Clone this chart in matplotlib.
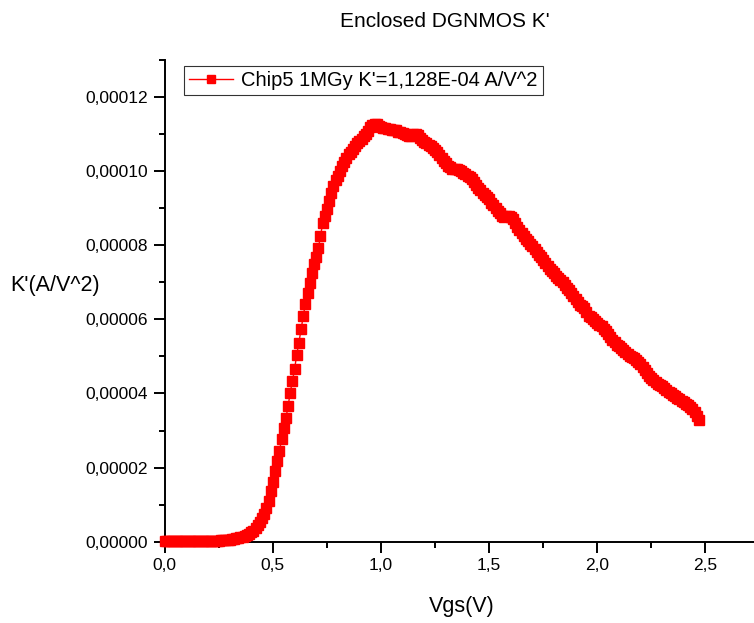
import numpy as np
import matplotlib
matplotlib.use('Agg')
import matplotlib.pyplot as plt
from matplotlib.ticker import MultipleLocator, FuncFormatter

plt.rcParams['font.family'] = ['Liberation Sans', 'DejaVu Sans']

# sweep: Vgs from 0 V in 0.01 V steps
vgs_start = 0.0
vgs_step = 0.01

# K', in units of 1e-5 A/V^2, one value per sweep step
k_e5 = [
    0.02, 0.02, 0.02, 0.02, 0.02, 0.02, 0.02, 0.02, 0.02, 0.02,
    0.02, 0.02, 0.02, 0.02, 0.02, 0.02, 0.02, 0.02, 0.02, 0.02,
    0.02, 0.02, 0.02, 0.03, 0.03, 0.03, 0.04, 0.04, 0.04, 0.05,
    0.05, 0.06, 0.08, 0.09, 0.11, 0.12, 0.14, 0.16, 0.19, 0.22,
    0.25, 0.30, 0.36, 0.44, 0.53, 0.63, 0.76, 0.90, 1.10, 1.36,
    1.62, 1.91, 2.19, 2.45, 2.76, 3.06, 3.33, 3.66, 4.02, 4.33,
    4.65, 5.05, 5.37, 5.73, 6.08, 6.42, 6.72, 6.99, 7.25, 7.50,
    7.68, 7.92, 8.24, 8.60, 8.80, 8.97, 9.20, 9.41, 9.60, 9.76,
    9.86, 10.00, 10.14, 10.26, 10.36, 10.45, 10.53, 10.61, 10.69, 10.76,
    10.82, 10.88, 10.94, 11.00, 11.08, 11.20, 11.24, 11.27, 11.28, 11.22,
    11.18, 11.16, 11.17, 11.14, 11.13, 11.12, 11.10, 11.10, 11.07, 11.06,
    11.03, 11.00, 10.97, 10.95, 10.96, 11.00, 11.01, 10.97, 10.90, 10.84,
    10.80, 10.75, 10.71, 10.67, 10.63, 10.58, 10.52, 10.43, 10.35, 10.27,
    10.22, 10.15, 10.10, 10.07, 10.06, 10.05, 10.03, 10.00, 9.95, 9.91,
    9.88, 9.85, 9.78, 9.70, 9.62, 9.55, 9.48, 9.42, 9.35, 9.30,
    9.24, 9.15, 9.08, 9.00, 8.92, 8.86, 8.80, 8.76, 8.78, 8.80,
    8.76, 8.70, 8.60, 8.50, 8.42, 8.33, 8.25, 8.18, 8.11, 8.04,
    7.98, 7.90, 7.82, 7.75, 7.67, 7.60, 7.53, 7.45, 7.37, 7.30,
    7.24, 7.18, 7.12, 7.06, 7.00, 6.93, 6.86, 6.79, 6.71, 6.64,
    6.56, 6.46, 6.40, 6.36, 6.31, 6.20, 6.10, 6.06, 6.00, 5.95,
    5.90, 5.86, 5.82, 5.75, 5.68, 5.60, 5.52, 5.45, 5.38, 5.32,
    5.27, 5.22, 5.17, 5.12, 5.07, 5.02, 4.98, 4.95, 4.91, 4.86,
    4.80, 4.72, 4.64, 4.56, 4.48, 4.42, 4.36, 4.30, 4.26, 4.22,
    4.19, 4.15, 4.10, 4.05, 4.00, 3.96, 3.92, 3.88, 3.84, 3.80,
    3.76, 3.72, 3.68, 3.63, 3.58, 3.50, 3.38, 3.28,
]

k = np.array(k_e5) * 1e-5
vgs = vgs_start + vgs_step * np.arange(len(k))

label = "Chip5 1MGy K'=1,128E-04 A/V^2"

fig = plt.figure(figsize=(7.54, 6.23), dpi=100)
ax = fig.add_axes([0.2186, 0.1305, 0.7814, 0.7732])

ax.plot(vgs, k, color='#ff0000', lw=1, marker='s', ms=7.5, mec='#ff0000',
        mfc='#ff0000', label=label, clip_on=False, zorder=3)

ax.set_xlim(0, 2.725)
ax.set_ylim(0, 0.00013)

ax.spines['top'].set_visible(False)
ax.spines['right'].set_visible(False)
for s in ['left', 'bottom']:
    ax.spines[s].set_linewidth(1.4)

ax.xaxis.set_major_locator(MultipleLocator(0.5))
ax.xaxis.set_minor_locator(MultipleLocator(0.25))
ax.yaxis.set_major_locator(MultipleLocator(0.00002))
ax.yaxis.set_minor_locator(MultipleLocator(0.00001))
ax.xaxis.set_major_formatter(FuncFormatter(lambda v, p: f'{v:.1f}'.replace('.', ',')))
ax.yaxis.set_major_formatter(FuncFormatter(lambda v, p: f'{v:.5f}'.replace('.', ',')))
ax.tick_params(which='major', direction='out', length=8, width=1.4, labelsize=12.5, pad=4)
ax.tick_params(which='minor', direction='out', length=4, width=1.4)

fig.text(0.59, 0.966, "Enclosed DGNMOS K'", ha='center', va='center', fontsize=15)
fig.text(0.612, 0.026, 'Vgs(V)', ha='center', va='center', fontsize=15.5)
fig.text(0.014, 0.542, "K'(A/V^2)", ha='left', va='center', fontsize=15.5)

leg = ax.legend(loc='upper left', bbox_to_anchor=(0.022, 1.0), fontsize=14.5,
                frameon=True, fancybox=False, borderpad=0.25, handlelength=2.2,
                handletextpad=0.4, borderaxespad=0.3, markerscale=0.85)
leg.get_frame().set_edgecolor('black')
leg.get_frame().set_linewidth(0.8)

fig.savefig('out.png', dpi=100)
